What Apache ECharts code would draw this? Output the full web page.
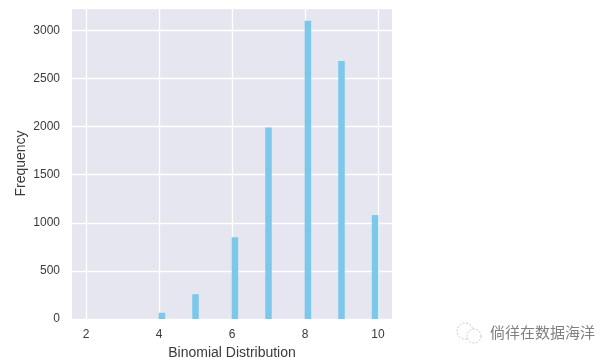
<!DOCTYPE html>
<html><head><meta charset="utf-8">
<style>html,body{margin:0;padding:0;background:#fff}#c{width:613px;height:360px}</style>
<script src="https://cdn.jsdelivr.net/npm/echarts@6/dist/echarts.min.js"></script>
</head><body><div id="c"></div>
<script>
const binCentres=[4.08,5.0,6.08,7.0,8.08,9.0,9.92];
const frequencies=[65,258,850,1990,3100,2682,1080];
const xTicks=[2,4,6,8,10];
const yTicks=[0,500,1000,1500,2000,2500,3000];
const xName='Binomial Distribution', yName='Frequency', mark='倘徉在数据海洋';
const chart=echarts.init(document.getElementById('c'),null,{renderer:'canvas'});
const font='"Liberation Sans",Arial,sans-serif';
chart.setOption({
 animation:false,
 grid:{left:72,top:8,width:320,height:311,outerBoundsMode:'none',containLabel:false,backgroundColor:'#E6E6F0',show:true,borderWidth:0},
 xAxis:{type:'value',min:1.616,max:10.384,
  axisLine:{show:false},axisTick:{show:false,customValues:xTicks},
  splitLine:{show:true,lineStyle:{color:'#fff',width:1.3}},
  axisLabel:{customValues:xTicks,showMinLabel:true,showMaxLabel:true,color:'#3a3a3a',fontFamily:font,fontSize:12,margin:10},
  name:xName,nameLocation:'middle',nameMoveOverlap:false,nameGap:27,nameTextStyle:{color:'#3a3a3a',fontFamily:font,fontSize:14}},
 yAxis:{type:'value',min:0,max:3233,interval:500,
  axisLine:{show:false},axisTick:{show:false},
  splitLine:{show:true,lineStyle:{color:'#fff',width:1.3}},
  axisLabel:{customValues:yTicks,formatter:v=>String(v),color:'#3a3a3a',fontFamily:font,fontSize:12,margin:12},
  name:yName,nameLocation:'middle',nameMoveOverlap:false,nameGap:44,nameTextStyle:{color:'#3a3a3a',fontFamily:font,fontSize:14}},
 series:[{type:'bar',barWidth:6.5,data:binCentres.map((x,i)=>[x,frequencies[i]]),
  itemStyle:{color:'#7CC8EA'}}],
 graphic:[
  {type:'circle',shape:{cx:465,cy:331,r:8},style:{fill:'none',stroke:'#bbb',lineWidth:0.8,lineDash:[2,1.5]}},
  {type:'circle',shape:{cx:474,cy:336,r:7},style:{fill:'#fff',stroke:'#bbb',lineWidth:0.8,lineDash:[2,1.5]}},
  {type:'text',left:490,top:324.5,style:{text:mark,fill:'#808080',font:'15px "Noto Sans CJK SC"'}}
 ]
});
</script></body></html>
